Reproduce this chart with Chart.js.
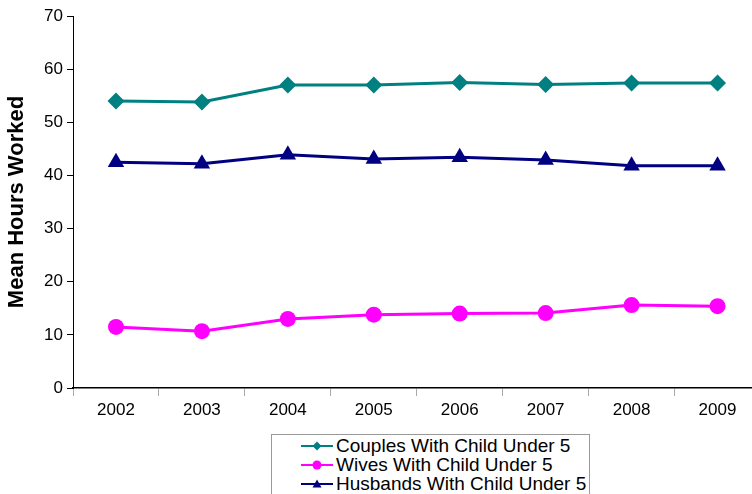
<!DOCTYPE html>
<html>
<head>
<meta charset="utf-8">
<script src="https://cdn.jsdelivr.net/npm/chart.js@4.4.1/dist/chart.umd.min.js"></script>
<style>
  html, body { margin: 0; padding: 0; background: #fff; overflow: hidden; width: 752px; height: 494px; }
  #c { position: absolute; left: 0; top: 0; }
  #legend {
    position: absolute; left: 271px; top: 434px; width: 319px; height: 70px;
    border: 1px solid #999; background: #fff;
    font-family: "Liberation Sans", Arial, sans-serif; font-size: 19px; color: #000;
    padding-top: 1px; box-sizing: border-box;
  }
  .item { display: flex; align-items: center; height: 19px; line-height: 19px; padding-left: 29px; }
  .item svg { margin-right: 3px; }
</style>
</head>
<body>
<canvas id="c" width="770" height="430"></canvas>
<div id="legend"></div>
<script>
  var years = ["2002", "2003", "2004", "2005", "2006", "2007", "2008", "2009"];
  var couples = [54.0, 53.8, 57.0, 57.0, 57.5, 57.1, 57.4, 57.4];
  var wives = [11.5, 10.7, 13.0, 13.8, 14.0, 14.1, 15.6, 15.4];
  var husbands = [42.5, 42.2, 43.9, 43.1, 43.4, 42.9, 41.8, 41.8];
  var yTicks = [0, 10, 20, 30, 40, 50, 60, 70];

  var SERIES = [
    { label: "Couples With Child Under 5", data: couples, color: "#008080", style: "rectRot", r: 8.5 },
    { label: "Wives With Child Under 5", data: wives, color: "#FF00FF", style: "circle", r: 8 },
    { label: "Husbands With Child Under 5", data: husbands, color: "#000080", style: "triangle", r: 9.5 }
  ];

  var font = "'Liberation Sans', Arial, sans-serif";

  new Chart(document.getElementById("c"), {
    type: "line",
    data: {
      labels: years,
      datasets: SERIES.map(function (s) {
        return {
          label: s.label, data: s.data,
          borderColor: s.color, backgroundColor: s.color,
          pointBackgroundColor: s.color, pointBorderColor: s.color,
          pointStyle: s.style, pointRadius: s.r, pointBorderWidth: 0,
          borderWidth: 3, tension: 0
        };
      })
    },
    options: {
      responsive: false, animation: false,
      layout: { padding: { top: 16, left: 0, right: 0, bottom: 0 } },
      plugins: { legend: { display: false }, tooltip: { enabled: false } },
      scales: {
        x: {
          offset: true,
          grid: { offset: true, drawOnChartArea: false, drawTicks: true, tickLength: 8, color: "#aaa" },
          border: { display: true, color: "#000", width: 1.5 },
          ticks: { color: "#000", font: { family: font, size: 17 }, padding: 4, maxRotation: 0 },
          afterFit: function (sc) { sc.height = 42; }
        },
        y: {
          min: 0, max: 70,
          afterBuildTicks: function (sc) { sc.ticks = yTicks.map(function (v) { return { value: v }; }); },
          grid: { drawOnChartArea: false, drawTicks: true, tickLength: 6, color: "#000" },
          border: { display: true, color: "#000", width: 1 },
          ticks: { color: "#000", font: { family: font, size: 17 }, padding: 4 },
          title: { display: true, text: "Mean Hours Worked", color: "#000", font: { family: font, size: 22, weight: "bold" }, padding: { top: 4, bottom: 0 } },
          afterFit: function (sc) { sc.width = 73; }
        }
      }
    }
  });

  function icon(s) {
    var m;
    if (s.style === "rectRot") m = '<polygon points="16,1.5 20.5,6 16,10.5 11.5,6" fill="' + s.color + '"/>';
    else if (s.style === "circle") m = '<circle cx="16" cy="6" r="4.5" fill="' + s.color + '"/>';
    else m = '<polygon points="16,1.5 20.5,9.5 11.5,9.5" fill="' + s.color + '"/>';
    return '<svg width="32" height="12" viewBox="0 0 32 12"><line x1="0" y1="6" x2="32" y2="6" stroke="' + s.color + '" stroke-width="2"/>' + m + '</svg>';
  }
  document.getElementById("legend").innerHTML = SERIES.map(function (s) {
    return '<div class="item">' + icon(s) + '<span>' + s.label + '</span></div>';
  }).join("");
</script>
</body>
</html>
